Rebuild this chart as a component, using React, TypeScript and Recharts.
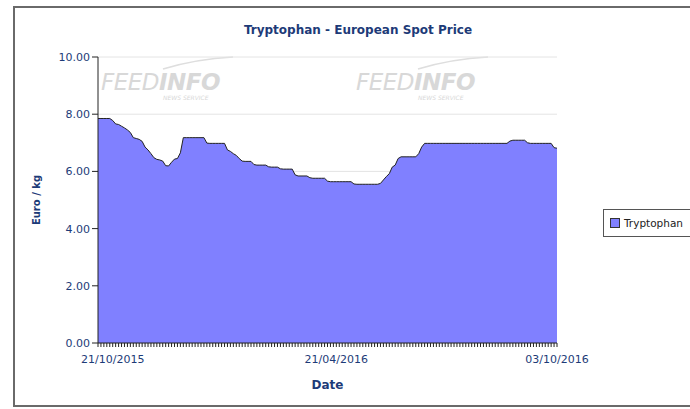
import { AreaChart, Area, XAxis, YAxis, CartesianGrid } from "recharts";

// Tryptophan spot price, euro/kg, one value per reporting date
const prices = [
  7.85, 7.85, 7.85, 7.85, 7.85, 7.78, 7.66, 7.64, 7.58, 7.52,
  7.45, 7.36, 7.18, 7.15, 7.12, 7.05, 6.85, 6.75, 6.62, 6.48,
  6.42, 6.4, 6.36, 6.2, 6.19, 6.32, 6.43, 6.45, 6.65, 7.18,
  7.18, 7.18, 7.18, 7.18, 7.18, 7.18, 7.18, 6.99, 6.98, 6.98,
  6.98, 6.98, 6.98, 6.98, 6.75, 6.7, 6.62, 6.56, 6.45, 6.36,
  6.35, 6.35, 6.35, 6.24, 6.22, 6.22, 6.22, 6.22, 6.16, 6.15,
  6.15, 6.15, 6.09, 6.08, 6.08, 6.08, 6.08, 5.88, 5.84, 5.84,
  5.84, 5.84, 5.78, 5.76, 5.76, 5.76, 5.76, 5.76, 5.66, 5.64,
  5.64, 5.64, 5.64, 5.64, 5.64, 5.64, 5.64, 5.56, 5.55, 5.55,
  5.55, 5.55, 5.55, 5.55, 5.55, 5.55, 5.58, 5.7, 5.82, 5.92,
  6.15, 6.22, 6.45, 6.51, 6.51, 6.51, 6.51, 6.51, 6.51, 6.62,
  6.85, 6.98, 6.98, 6.98, 6.98, 6.98, 6.98, 6.98, 6.98, 6.98,
  6.98, 6.98, 6.98, 6.98, 6.98, 6.98, 6.98, 6.98, 6.98, 6.98,
  6.98, 6.98, 6.98, 6.98, 6.98, 6.98, 6.98, 6.98, 6.98, 6.98,
  7.06, 7.09, 7.09, 7.09, 7.09, 7.09, 7.0, 6.98, 6.98, 6.98,
  6.98, 6.98, 6.98, 6.98, 6.98, 6.83, 6.81,
];

const tickLabels = ["21/10/2015", "21/04/2016", "03/10/2016"];
const tickLabelAt = [5, 81, 156];
const yTicks = [0, 2, 4, 6, 8, 10];

const data = prices.map((price, i) => ({ i, price }));

const BLUE = "#1d3b78";
const FONT = "'DejaVu Sans', Verdana, sans-serif";

function DateTick(props: any) {
  const { x, y, payload } = props;
  const pos = tickLabelAt.indexOf(payload.value);
  if (pos < 0) return null;
  return (
    <text x={x} y={y + 14} textAnchor="middle" fill={BLUE} fontSize={11} fontFamily={FONT}>
      {tickLabels[pos]}
    </text>
  );
}

function Watermark({ left }: { left: number }) {
  return (
    <div style={{ position: "absolute", left, top: 55, width: 140, height: 45, color: "#d8d8d8", fontFamily: FONT, fontStyle: "italic", lineHeight: 1 }}>
      <svg width={140} height={16} style={{ display: "block" }}>
        <path d="M62 14 Q95 4 132 2" stroke="#dedede" strokeWidth={1.5} fill="none" />
      </svg>
      <div style={{ fontSize: 23, letterSpacing: -0.5 }}>
        FEED<span style={{ fontWeight: "bold" }}>INFO</span>
      </div>
      <div style={{ fontSize: 6, marginLeft: 62, marginTop: 1 }}>NEWS SERVICE</div>
    </div>
  );
}

const borderLine = { position: "absolute", background: "#6a6a6a" } as const;

export default function App() {
  return (
    <div style={{ position: "fixed", left: 0, top: 0, width: 690, height: 409, overflow: "hidden", background: "#fff" }}>
      <div style={{ ...borderLine, left: 13, top: 6, width: 677, height: 2 }} />
      <div style={{ ...borderLine, left: 13, top: 6, width: 2, height: 401 }} />
      <div style={{ ...borderLine, left: 13, top: 405, width: 677, height: 2 }} />
      <div style={{ position: "absolute", left: 0, width: 716, top: 23, textAlign: "center", color: BLUE, fontFamily: FONT, fontWeight: "bold", fontSize: 12 }}>
        Tryptophan - European Spot Price
      </div>
      <Watermark left={101} />
      <Watermark left={356} />

      <div style={{ position: "absolute", left: 0, top: 0 }}>
        <AreaChart width={690} height={409} data={data} margin={{ top: 57, right: 133, bottom: 0, left: 0 }}>
          <CartesianGrid vertical={false} stroke="#e4e4e4" />
          <XAxis
            dataKey="i"
            interval={0}
            tickSize={4}
            tick={<DateTick />}
            tickLine={{ stroke: "#222" }}
            axisLine={{ stroke: "#222" }}
            height={66}
            label={{ value: "Date", position: "insideBottom", offset: 20, fill: BLUE, fontSize: 12, fontWeight: "bold", fontFamily: FONT }}
          />
          <YAxis
            domain={[0, 10]}
            ticks={yTicks}
            width={98}
            tickFormatter={(v: number) => v.toFixed(2)}
            tick={{ fill: BLUE, fontSize: 11, fontFamily: FONT }}
            tickLine={{ stroke: "#222" }}
            axisLine={{ stroke: "#222" }}
            label={{ value: "Euro / kg", angle: -90, position: "insideLeft", offset: 36, fill: BLUE, fontSize: 10, fontWeight: "bold", fontFamily: FONT, style: { textAnchor: "middle" } }}
          />
          <YAxis yAxisId="right" orientation="right" width={0} tick={false} tickLine={false} axisLine={{ stroke: "#222" }} />
          <Area
            type="linear"
            dataKey="price"
            stroke="#222"
            strokeWidth={1}
            fill="#8080ff"
            fillOpacity={1}
            isAnimationActive={false}
          />
        </AreaChart>
      </div>

      <div style={{ position: "absolute", left: 603, top: 209, width: 95, height: 28, boxSizing: "border-box", border: "1px solid #555", background: "#fff", display: "flex", alignItems: "center", whiteSpace: "nowrap", fontFamily: FONT, fontSize: 10.5, color: "#222" }}>
        <span style={{ display: "inline-block", flex: "none", width: 8, height: 8, border: "1px solid #333", background: "#8080ff", marginLeft: 6, marginRight: 4 }} />
        Tryptophan
      </div>
    </div>
  );
}
